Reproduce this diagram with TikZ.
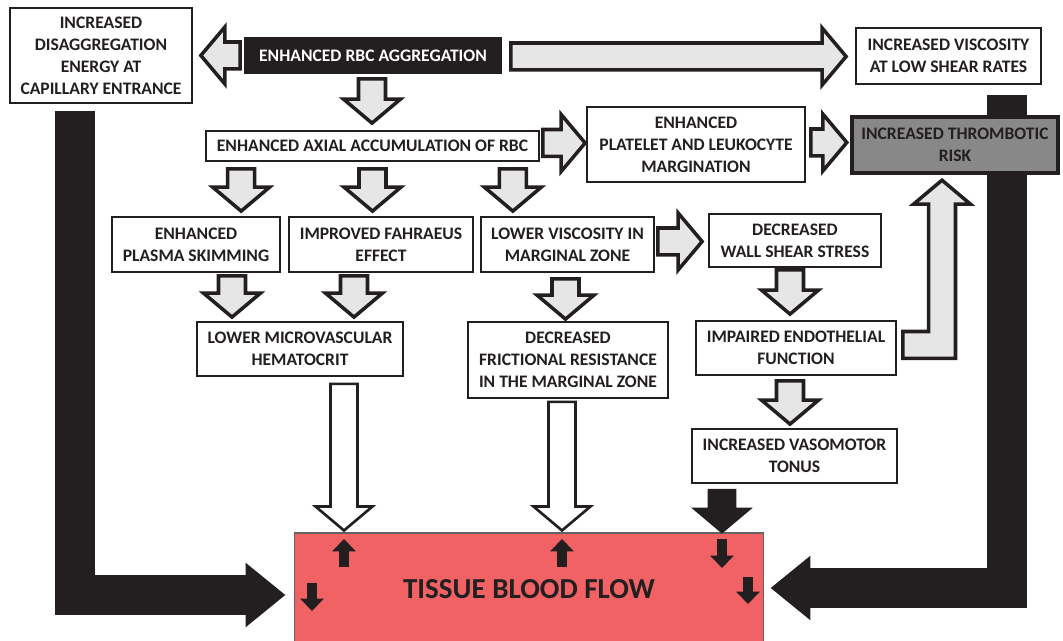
\documentclass[tikz,border=0pt]{standalone}
\usepackage{fontspec}
\setmainfont{Carlito}
\usetikzlibrary{calc,arrows.meta,backgrounds}

\definecolor{ink}{RGB}{35,31,32}
\definecolor{arrowgray}{RGB}{230,230,230}
\definecolor{riskgray}{RGB}{136,136,136}
\definecolor{flowred}{RGB}{240,98,100}

\def\aw{0.27cm}
\def\ah{0.57cm}
\def\al{0.48cm}

\newcommand\fatdown[3][grayarrow]{%
  \draw[#1] let \p1=(#2), \p2=(#3) in
    (\x1-\aw,\y1) -- (\x1-\aw,\y2+\al) -- (\x1-\ah,\y2+\al) -- (\x1,\y2)
    -- (\x1+\ah,\y2+\al) -- (\x1+\aw,\y2+\al) -- (\x1+\aw,\y1) -- cycle;}
\newcommand\fatright[3][grayarrow]{%
  \draw[#1] let \p1=(#2), \p2=(#3) in
    (\x1,\y1+\aw) -- (\x2-\al,\y1+\aw) -- (\x2-\al,\y1+\ah) -- (\x2,\y1)
    -- (\x2-\al,\y1-\ah) -- (\x2-\al,\y1-\aw) -- (\x1,\y1-\aw) -- cycle;}
\newcommand\fatleft[3][grayarrow]{%
  \draw[#1] let \p1=(#2), \p2=(#3) in
    (\x1,\y1+\aw) -- (\x2+\al,\y1+\aw) -- (\x2+\al,\y1+\ah) -- (\x2,\y1)
    -- (\x2+\al,\y1-\ah) -- (\x2+\al,\y1-\aw) -- (\x1,\y1-\aw) -- cycle;}

\tikzset{
  box/.style={draw=ink, line width=1pt, fill=white, text=ink, align=center,
    inner sep=0pt, font=\fontsize{10}{12.5}\selectfont\bfseries},
  grayarrow/.style={draw=ink, fill=arrowgray, line width=2pt},
  whitearrow/.style={draw=ink, fill=white, line width=1.5pt},
  blackarrow/.style={draw=ink, fill=ink, line width=1pt},
  blackbar/.style={draw=ink, line width=0.8cm, -{Triangle[length=0.8cm,width=1.24cm]}},
  flowtick/.style={draw=ink, line width=6pt, -{Triangle[length=7pt,width=13pt]}}
}

\begin{document}
\begin{tikzpicture}[x=0.02cm, y=-0.02cm]
\useasboundingbox (0,0) rectangle (1063,641);

\node[box, minimum width=3.64cm, minimum height=1.9cm] (disagg) at (101,55.5) {INCREASED\\DISAGGREGATION\\ENERGY AT\\CAPILLARY ENTRANCE};
\node[box, fill=ink, text=white, minimum width=5.12cm, minimum height=0.7cm] (aggr) at (373,55.5) {ENHANCED RBC AGGREGATION};
\node[box, minimum width=3.7cm, minimum height=1.12cm] (visc) at (948.5,56) {INCREASED VISCOSITY\\AT LOW SHEAR RATES};
\node[box, minimum width=6.66cm, minimum height=0.6cm] (axial) at (372.5,146) {ENHANCED AXIAL ACCUMULATION OF RBC};
\node[box, minimum width=4.36cm, minimum height=1.5cm] (platelet) at (696,144.5) {ENHANCED\\PLATELET AND LEUKOCYTE\\MARGINATION};
\node[box, line width=2.5pt, fill=riskgray, minimum width=4.12cm, minimum height=1.12cm] (thromb) at (955,145) {INCREASED THROMBOTIC\\RISK};
\node[box, minimum width=3.36cm, minimum height=1.1cm] (skim) at (196,244.5) {ENHANCED\\PLASMA SKIMMING};
\node[box, minimum width=3.68cm, minimum height=1.1cm] (fahr) at (381,244.5) {IMPROVED FAHRAEUS\\EFFECT};
\node[box, minimum width=3.46cm, minimum height=1.1cm] (lowvisc) at (567.5,244.5) {LOWER VISCOSITY IN\\MARGINAL ZONE};
\node[box, minimum width=3.44cm, minimum height=1.06cm] (wss) at (795,240.5) {DECREASED\\WALL SHEAR STRESS};
\node[box, minimum width=4.12cm, minimum height=1.08cm] (hemat) at (300,349) {LOWER MICROVASCULAR\\HEMATOCRIT};
\node[box, minimum width=4cm, minimum height=1.52cm] (fric) at (568,360) {DECREASED\\FRICTIONAL RESISTANCE\\IN THE MARGINAL ZONE};
\node[box, minimum width=4cm, minimum height=1.08cm] (endo) at (796,348) {IMPAIRED ENDOTHELIAL\\FUNCTION};
\node[box, minimum width=4.1cm, minimum height=1.08cm] (vaso) at (794.5,456) {INCREASED VASOMOTOR\\TONUS};
\node[box, draw=ink!70, line width=0.6pt, fill=flowred, font=\fontsize{16.5}{19}\selectfont\bfseries, minimum width=9.4cm, minimum height=2.24cm] (tissue) at (529,589) {TISSUE BLOOD FLOW};

\fatleft{$(aggr.west)+(-4,0)$}{$(disagg.east)+(8,0)$}
\fatright{$(aggr.east)+(9,1)$}{$(visc.west)+(-9,0)$}
\fatdown{$(aggr.south)+(-1,5)$}{$(axial.north)+(0,-7)$}
\fatright{$(axial.east)+(3,-3)$}{$(platelet.west)+(-1,0)$}
\fatright{$(platelet.east)+(5,-2)$}{$(thromb.west)+(-3,0)$}
\fatdown{$(axial.south west)+(36,7)$}{$(skim.north)+(0,-5)$}
\fatdown{$(axial.south)+(0,7)$}{$(fahr.north)+(0,-5)$}
\fatdown{$(axial.south east)+(-27,7)$}{$(lowvisc.north)+(0,-5)$}
\fatright{$(lowvisc.east)+(3,-3)$}{$(wss.west)+(-6,0)$}
\fatdown{$(skim.south)+(36,3)$}{$(hemat.north)+(0,-4)$}
\fatdown{$(fahr.south)+(-27,3)$}{$(hemat.north)+(0,-4)$}
\fatdown{$(lowvisc.south)+(-2,6)$}{$(fric.north)+(0,-2)$}
\fatdown{$(wss.south)+(-5,2)$}{$(endo.north)+(0,-6)$}
\fatdown{$(endo.south)+(-6,5)$}{$(vaso.north)+(0,-4)$}
\draw[grayarrow] let \p1=($(endo.east)+(6,-3)$), \p2=($(thromb.south)+(-13,5)$) in
  (\x1,\y1+\aw) -- (\x2-\aw,\y1+\aw) -- (\x2-\aw,\y2-\al) -- (\x2-\ah,\y2-\al) -- (\x2,\y2)
  -- (\x2+\ah,\y2-\al) -- (\x2+\aw,\y2-\al) -- (\x2+\aw,\y1-\aw) -- (\x1,\y1-\aw) -- cycle;
\fatdown[whitearrow]{$(hemat.south)+(44,7)$}{$(tissue.north)+(0,-2)$}
\fatdown[whitearrow]{$(fric.south)+(-6,3)$}{$(tissue.north)+(0,-2)$}
\fatdown[blackarrow]{$(vaso.south)+(-72.5,6)$}{tissue.north}

\draw[flowtick] (344,567) -- (344,539);
\draw[flowtick] (562,567) -- (562,539);
\draw[flowtick] (722,539) -- (722,568);
\draw[flowtick] (312,583) -- (312,611);
\draw[flowtick] (748,577) -- (748,604);

\begin{pgfonlayer}{background}
\draw[blackbar] ($(disagg.south west)+(66,7)$) |- ($(tissue.west)+(-8,6)$);
\draw[blackbar] ($(visc.south east)+(-34.5,10)$) |- ($(tissue.east)+(6,-1)$);
\end{pgfonlayer}
\end{tikzpicture}
\end{document}
